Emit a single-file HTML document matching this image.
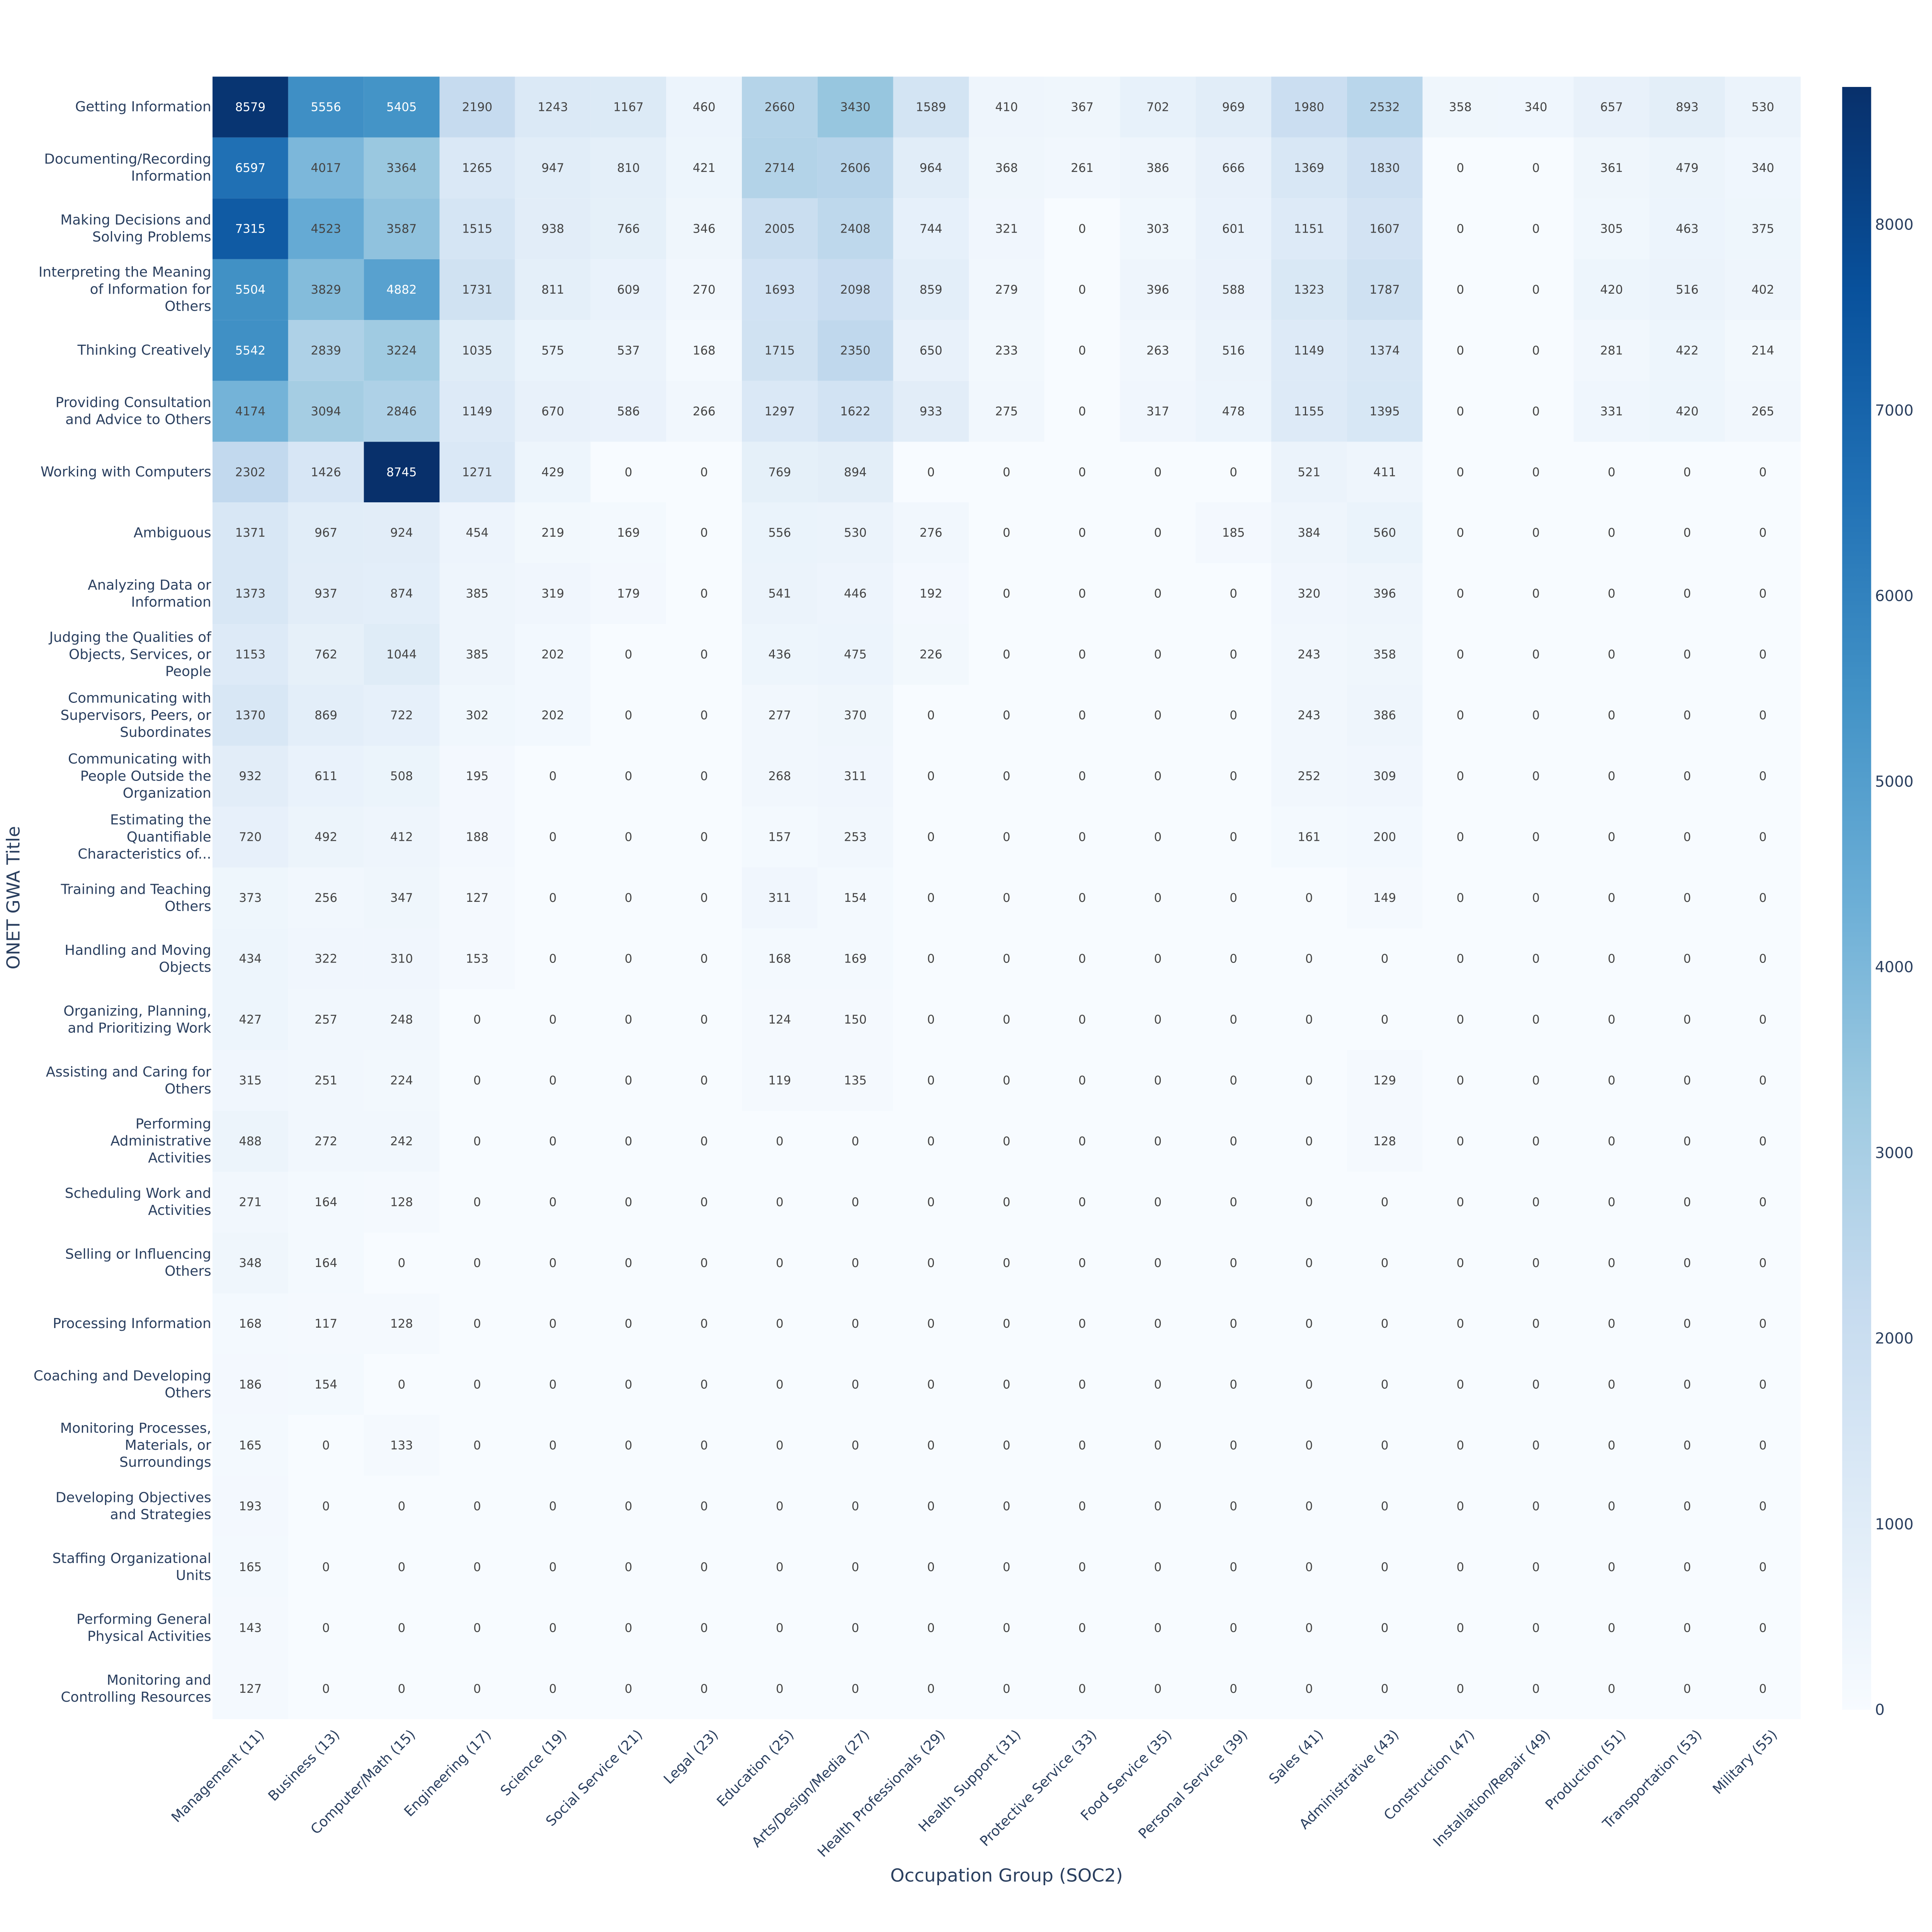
<!DOCTYPE html>
<html><head><meta charset="utf-8"><style>
html,body{margin:0;padding:0;overflow:hidden;background:#fff;width:100%;height:100%;}
#root{position:absolute;left:0;top:0;width:6000px;height:6000px;background:#fff;overflow:hidden;font-family:"DejaVu Sans","Liberation Sans",sans-serif;transform-origin:0 0;}
#grid{position:absolute;left:660px;top:238px;width:4932px;height:5101px;display:grid;grid-template-columns:repeat(21,1fr);grid-template-rows:repeat(27,1fr);}
#grid div{display:flex;align-items:center;justify-content:center;font-size:37px;color:#444;}
.yl{position:absolute;right:5344px;width:700px;text-align:right;font-size:43px;line-height:53px;color:#2a3f5f;transform:translateY(-50%);}
.xl{position:absolute;top:5362px;width:0;height:0;}
.xl span{position:absolute;right:0;top:0;white-space:nowrap;font-size:43px;color:#2a3f5f;transform-origin:100% 0;transform:rotate(-45deg);}
.ct{position:absolute;left:5823px;font-size:47px;color:#2a3f5f;transform:translateY(-50%);}
</style></head><body>
<div id="root">
<div id="grid">
<div>8579</div><div>5556</div><div>5405</div><div>2190</div><div>1243</div><div>1167</div><div>460</div><div>2660</div><div>3430</div><div>1589</div><div>410</div><div>367</div><div>702</div><div>969</div><div>1980</div><div>2532</div><div>358</div><div>340</div><div>657</div><div>893</div><div>530</div>
<div>6597</div><div>4017</div><div>3364</div><div>1265</div><div>947</div><div>810</div><div>421</div><div>2714</div><div>2606</div><div>964</div><div>368</div><div>261</div><div>386</div><div>666</div><div>1369</div><div>1830</div><div>0</div><div>0</div><div>361</div><div>479</div><div>340</div>
<div>7315</div><div>4523</div><div>3587</div><div>1515</div><div>938</div><div>766</div><div>346</div><div>2005</div><div>2408</div><div>744</div><div>321</div><div>0</div><div>303</div><div>601</div><div>1151</div><div>1607</div><div>0</div><div>0</div><div>305</div><div>463</div><div>375</div>
<div>5504</div><div>3829</div><div>4882</div><div>1731</div><div>811</div><div>609</div><div>270</div><div>1693</div><div>2098</div><div>859</div><div>279</div><div>0</div><div>396</div><div>588</div><div>1323</div><div>1787</div><div>0</div><div>0</div><div>420</div><div>516</div><div>402</div>
<div>5542</div><div>2839</div><div>3224</div><div>1035</div><div>575</div><div>537</div><div>168</div><div>1715</div><div>2350</div><div>650</div><div>233</div><div>0</div><div>263</div><div>516</div><div>1149</div><div>1374</div><div>0</div><div>0</div><div>281</div><div>422</div><div>214</div>
<div>4174</div><div>3094</div><div>2846</div><div>1149</div><div>670</div><div>586</div><div>266</div><div>1297</div><div>1622</div><div>933</div><div>275</div><div>0</div><div>317</div><div>478</div><div>1155</div><div>1395</div><div>0</div><div>0</div><div>331</div><div>420</div><div>265</div>
<div>2302</div><div>1426</div><div>8745</div><div>1271</div><div>429</div><div>0</div><div>0</div><div>769</div><div>894</div><div>0</div><div>0</div><div>0</div><div>0</div><div>0</div><div>521</div><div>411</div><div>0</div><div>0</div><div>0</div><div>0</div><div>0</div>
<div>1371</div><div>967</div><div>924</div><div>454</div><div>219</div><div>169</div><div>0</div><div>556</div><div>530</div><div>276</div><div>0</div><div>0</div><div>0</div><div>185</div><div>384</div><div>560</div><div>0</div><div>0</div><div>0</div><div>0</div><div>0</div>
<div>1373</div><div>937</div><div>874</div><div>385</div><div>319</div><div>179</div><div>0</div><div>541</div><div>446</div><div>192</div><div>0</div><div>0</div><div>0</div><div>0</div><div>320</div><div>396</div><div>0</div><div>0</div><div>0</div><div>0</div><div>0</div>
<div>1153</div><div>762</div><div>1044</div><div>385</div><div>202</div><div>0</div><div>0</div><div>436</div><div>475</div><div>226</div><div>0</div><div>0</div><div>0</div><div>0</div><div>243</div><div>358</div><div>0</div><div>0</div><div>0</div><div>0</div><div>0</div>
<div>1370</div><div>869</div><div>722</div><div>302</div><div>202</div><div>0</div><div>0</div><div>277</div><div>370</div><div>0</div><div>0</div><div>0</div><div>0</div><div>0</div><div>243</div><div>386</div><div>0</div><div>0</div><div>0</div><div>0</div><div>0</div>
<div>932</div><div>611</div><div>508</div><div>195</div><div>0</div><div>0</div><div>0</div><div>268</div><div>311</div><div>0</div><div>0</div><div>0</div><div>0</div><div>0</div><div>252</div><div>309</div><div>0</div><div>0</div><div>0</div><div>0</div><div>0</div>
<div>720</div><div>492</div><div>412</div><div>188</div><div>0</div><div>0</div><div>0</div><div>157</div><div>253</div><div>0</div><div>0</div><div>0</div><div>0</div><div>0</div><div>161</div><div>200</div><div>0</div><div>0</div><div>0</div><div>0</div><div>0</div>
<div>373</div><div>256</div><div>347</div><div>127</div><div>0</div><div>0</div><div>0</div><div>311</div><div>154</div><div>0</div><div>0</div><div>0</div><div>0</div><div>0</div><div>0</div><div>149</div><div>0</div><div>0</div><div>0</div><div>0</div><div>0</div>
<div>434</div><div>322</div><div>310</div><div>153</div><div>0</div><div>0</div><div>0</div><div>168</div><div>169</div><div>0</div><div>0</div><div>0</div><div>0</div><div>0</div><div>0</div><div>0</div><div>0</div><div>0</div><div>0</div><div>0</div><div>0</div>
<div>427</div><div>257</div><div>248</div><div>0</div><div>0</div><div>0</div><div>0</div><div>124</div><div>150</div><div>0</div><div>0</div><div>0</div><div>0</div><div>0</div><div>0</div><div>0</div><div>0</div><div>0</div><div>0</div><div>0</div><div>0</div>
<div>315</div><div>251</div><div>224</div><div>0</div><div>0</div><div>0</div><div>0</div><div>119</div><div>135</div><div>0</div><div>0</div><div>0</div><div>0</div><div>0</div><div>0</div><div>129</div><div>0</div><div>0</div><div>0</div><div>0</div><div>0</div>
<div>488</div><div>272</div><div>242</div><div>0</div><div>0</div><div>0</div><div>0</div><div>0</div><div>0</div><div>0</div><div>0</div><div>0</div><div>0</div><div>0</div><div>0</div><div>128</div><div>0</div><div>0</div><div>0</div><div>0</div><div>0</div>
<div>271</div><div>164</div><div>128</div><div>0</div><div>0</div><div>0</div><div>0</div><div>0</div><div>0</div><div>0</div><div>0</div><div>0</div><div>0</div><div>0</div><div>0</div><div>0</div><div>0</div><div>0</div><div>0</div><div>0</div><div>0</div>
<div>348</div><div>164</div><div>0</div><div>0</div><div>0</div><div>0</div><div>0</div><div>0</div><div>0</div><div>0</div><div>0</div><div>0</div><div>0</div><div>0</div><div>0</div><div>0</div><div>0</div><div>0</div><div>0</div><div>0</div><div>0</div>
<div>168</div><div>117</div><div>128</div><div>0</div><div>0</div><div>0</div><div>0</div><div>0</div><div>0</div><div>0</div><div>0</div><div>0</div><div>0</div><div>0</div><div>0</div><div>0</div><div>0</div><div>0</div><div>0</div><div>0</div><div>0</div>
<div>186</div><div>154</div><div>0</div><div>0</div><div>0</div><div>0</div><div>0</div><div>0</div><div>0</div><div>0</div><div>0</div><div>0</div><div>0</div><div>0</div><div>0</div><div>0</div><div>0</div><div>0</div><div>0</div><div>0</div><div>0</div>
<div>165</div><div>0</div><div>133</div><div>0</div><div>0</div><div>0</div><div>0</div><div>0</div><div>0</div><div>0</div><div>0</div><div>0</div><div>0</div><div>0</div><div>0</div><div>0</div><div>0</div><div>0</div><div>0</div><div>0</div><div>0</div>
<div>193</div><div>0</div><div>0</div><div>0</div><div>0</div><div>0</div><div>0</div><div>0</div><div>0</div><div>0</div><div>0</div><div>0</div><div>0</div><div>0</div><div>0</div><div>0</div><div>0</div><div>0</div><div>0</div><div>0</div><div>0</div>
<div>165</div><div>0</div><div>0</div><div>0</div><div>0</div><div>0</div><div>0</div><div>0</div><div>0</div><div>0</div><div>0</div><div>0</div><div>0</div><div>0</div><div>0</div><div>0</div><div>0</div><div>0</div><div>0</div><div>0</div><div>0</div>
<div>143</div><div>0</div><div>0</div><div>0</div><div>0</div><div>0</div><div>0</div><div>0</div><div>0</div><div>0</div><div>0</div><div>0</div><div>0</div><div>0</div><div>0</div><div>0</div><div>0</div><div>0</div><div>0</div><div>0</div><div>0</div>
<div>127</div><div>0</div><div>0</div><div>0</div><div>0</div><div>0</div><div>0</div><div>0</div><div>0</div><div>0</div><div>0</div><div>0</div><div>0</div><div>0</div><div>0</div><div>0</div><div>0</div><div>0</div><div>0</div><div>0</div><div>0</div>
</div>

<div class="yl" style="top:332px">Getting Information</div>
<div class="yl" style="top:521px">Documenting/Recording<br>Information</div>
<div class="yl" style="top:710px">Making Decisions and<br>Solving Problems</div>
<div class="yl" style="top:899px">Interpreting the Meaning<br>of Information for<br>Others</div>
<div class="yl" style="top:1088px">Thinking Creatively</div>
<div class="yl" style="top:1277px">Providing Consultation<br>and Advice to Others</div>
<div class="yl" style="top:1466px">Working with Computers</div>
<div class="yl" style="top:1655px">Ambiguous</div>
<div class="yl" style="top:1844px">Analyzing Data or<br>Information</div>
<div class="yl" style="top:2033px">Judging the Qualities of<br>Objects, Services, or<br>People</div>
<div class="yl" style="top:2222px">Communicating with<br>Supervisors, Peers, or<br>Subordinates</div>
<div class="yl" style="top:2411px">Communicating with<br>People Outside the<br>Organization</div>
<div class="yl" style="top:2600px">Estimating the<br>Quantifiable<br>Characteristics of...</div>
<div class="yl" style="top:2789px">Training and Teaching<br>Others</div>
<div class="yl" style="top:2978px">Handling and Moving<br>Objects</div>
<div class="yl" style="top:3167px">Organizing, Planning,<br>and Prioritizing Work</div>
<div class="yl" style="top:3356px">Assisting and Caring for<br>Others</div>
<div class="yl" style="top:3544px">Performing<br>Administrative<br>Activities</div>
<div class="yl" style="top:3733px">Scheduling Work and<br>Activities</div>
<div class="yl" style="top:3922px">Selling or Influencing<br>Others</div>
<div class="yl" style="top:4111px">Processing Information</div>
<div class="yl" style="top:4300px">Coaching and Developing<br>Others</div>
<div class="yl" style="top:4489px">Monitoring Processes,<br>Materials, or<br>Surroundings</div>
<div class="yl" style="top:4678px">Developing Objectives<br>and Strategies</div>
<div class="yl" style="top:4867px">Staffing Organizational<br>Units</div>
<div class="yl" style="top:5056px">Performing General<br>Physical Activities</div>
<div class="yl" style="top:5245px">Monitoring and<br>Controlling Resources</div>

<div class="xl" style="left:795px"><span>Management (11)</span></div>
<div class="xl" style="left:1030px"><span>Business (13)</span></div>
<div class="xl" style="left:1265px"><span>Computer/Math (15)</span></div>
<div class="xl" style="left:1500px"><span>Engineering (17)</span></div>
<div class="xl" style="left:1735px"><span>Science (19)</span></div>
<div class="xl" style="left:1970px"><span>Social Service (21)</span></div>
<div class="xl" style="left:2205px"><span>Legal (23)</span></div>
<div class="xl" style="left:2440px"><span>Education (25)</span></div>
<div class="xl" style="left:2675px"><span>Arts/Design/Media (27)</span></div>
<div class="xl" style="left:2910px"><span>Health Professionals (29)</span></div>
<div class="xl" style="left:3145px"><span>Health Support (31)</span></div>
<div class="xl" style="left:3380px"><span>Protective Service (33)</span></div>
<div class="xl" style="left:3614px"><span>Food Service (35)</span></div>
<div class="xl" style="left:3849px"><span>Personal Service (39)</span></div>
<div class="xl" style="left:4084px"><span>Sales (41)</span></div>
<div class="xl" style="left:4319px"><span>Administrative (43)</span></div>
<div class="xl" style="left:4554px"><span>Construction (47)</span></div>
<div class="xl" style="left:4789px"><span>Installation/Repair (49)</span></div>
<div class="xl" style="left:5024px"><span>Production (51)</span></div>
<div class="xl" style="left:5259px"><span>Transportation (53)</span></div>
<div class="xl" style="left:5494px"><span>Military (55)</span></div>

<div style="position:absolute;left:3126px;top:5825px;transform:translate(-50%,-50%);font-size:56px;color:#2a3f5f;white-space:nowrap">Occupation Group (SOC2)</div>
<div style="position:absolute;left:42px;top:2788px;transform:translate(-50%,-50%) rotate(-90deg);font-size:56px;color:#2a3f5f;white-space:nowrap">ONET GWA Title</div>

<div style="position:absolute;left:5721px;top:270px;width:90px;height:5040px;background:linear-gradient(to top,rgb(247,251,255) 0%,rgb(222,235,247) 12.5%,rgb(198,219,239) 25%,rgb(158,202,225) 37.5%,rgb(107,174,214) 50%,rgb(66,146,198) 62.5%,rgb(33,113,181) 75%,rgb(8,81,156) 87.5%,rgb(8,48,107) 100%)"></div>
<div class="ct" style="top:5310px">0</div>
<div class="ct" style="top:4734px">1000</div>
<div class="ct" style="top:4157px">2000</div>
<div class="ct" style="top:3581px">3000</div>
<div class="ct" style="top:3004px">4000</div>
<div class="ct" style="top:2428px">5000</div>
<div class="ct" style="top:1851px">6000</div>
<div class="ct" style="top:1275px">7000</div>
<div class="ct" style="top:698px">8000</div>
</div>

<script>
var S=[[247,251,255],[222,235,247],[198,219,239],[158,202,225],[107,174,214],[66,146,198],[33,113,181],[8,81,156],[8,48,107]];
function col(t){t=Math.max(0,Math.min(1,t));var p=t*8,i=Math.min(7,Math.floor(p)),f=p-i,a=S[i],b=S[i+1];
return 'rgb('+[0,1,2].map(function(k){return Math.round(a[k]+(b[k]-a[k])*f)}).join(',')+')';}
document.querySelectorAll('#grid div').forEach(function(d){var v=+d.textContent,t=v/8745;d.style.background=col(t);if(t>0.55)d.style.color='#fff';});
function fit(){var w=window.innerWidth||document.documentElement.clientWidth||6000;var h=window.innerHeight||document.documentElement.clientHeight||6000;var s=Math.min(w,h)/6000;if(!(s>0))s=1;document.getElementById('root').style.transform='scale('+s+')';}
fit();window.addEventListener('resize',fit);
</script>
</body></html>
